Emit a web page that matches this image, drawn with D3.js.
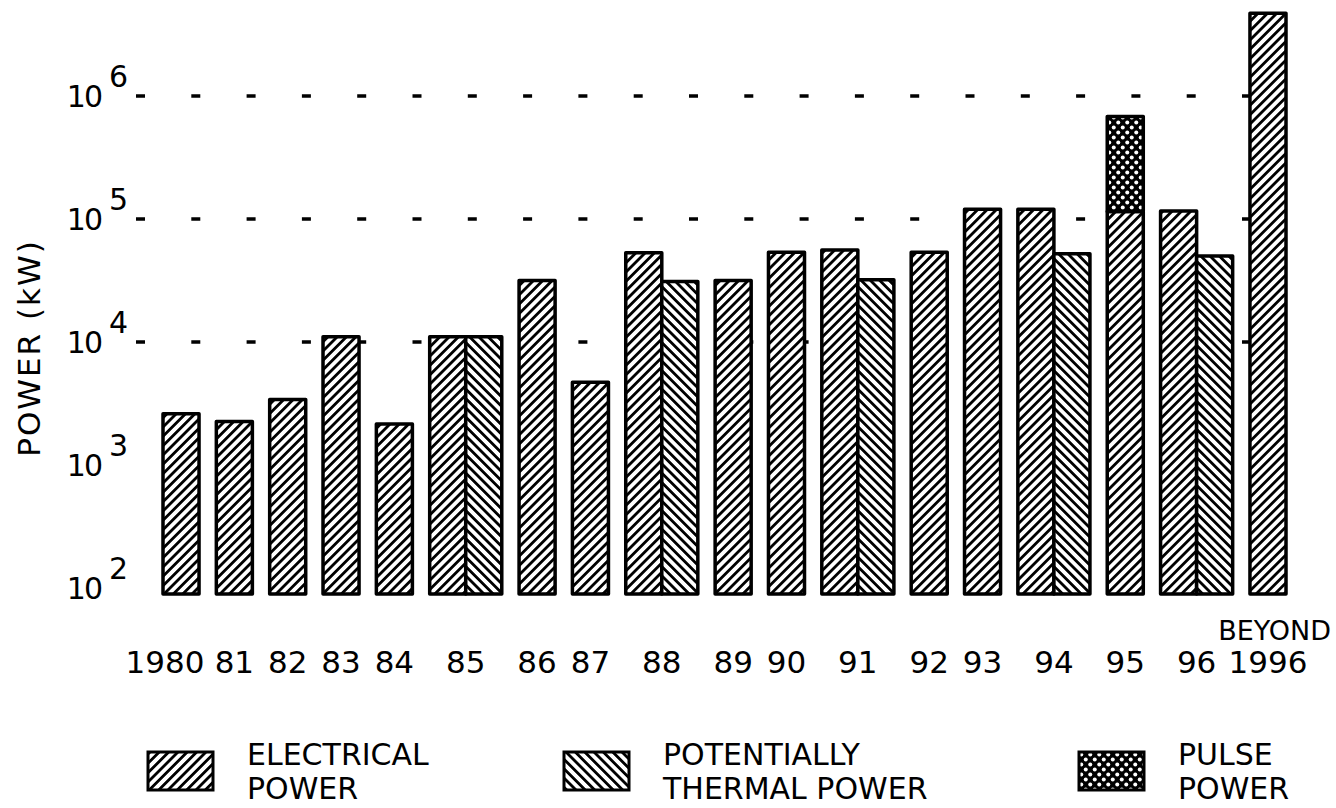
<!DOCTYPE html>
<html>
<head>
<meta charset="utf-8">
<script src="https://cdn.jsdelivr.net/npm/d3@7"></script>
<style>
  body { margin: 0; background: #fff; }
  svg { display: block; }
  .lbl { font-family: "DejaVu Sans", sans-serif; fill: #000; }
</style>
</head>
<body>
<script>
(function(){

//chart data (kW)
var years = ["1980","81","82","83","84","85","86","87","88","89","90","91","92","93","94","95","96","1996"];
var electrical = [2600, 2250, 3400, 11000, 2150, 11000, 31500, 4700, 53000, 31500, 53500, 56000, 53500, 120000, 120000, 115000, 116000, 4700000];
var thermal = [null, null, null, null, null, 11000, null, null, 31000, null, null, 32000, null, null, 52000, null, 50000, null];
var pulseTop = [null, null, null, null, null, null, null, null, null, null, null, null, null, null, null, 680000, null, null];
var yTicks = [1e2, 1e3, 1e4, 1e5, 1e6];
var gridTicks = [1e4, 1e5, 1e6];
var legendLabels = [["ELECTRICAL", "POWER"], ["POTENTIALLY", "THERMAL POWER"], ["PULSE", "POWER"]];
var legendFills = ["url(#elecHatch)", "url(#thermHatch)", "url(#pulseDots)"];

var width = 1336, height = 808;

var svg = d3.select("body")
    .append("svg")
    .attr("width", width)
    .attr("height", height);

svg.append("rect")
    .attr("width", width)
    .attr("height", height)
    .attr("fill", "#fff");

setPatterns(svg);

//log scale for power, bars start a little under 10^2
var yScale = d3.scaleLog()
    .domain([89, 1e6])
    .range([594, 96]);

//bars are laid out one after the other, pairs sit side by side
var gapUnits = 0.48;
var starts = [], pos = 0;
years.forEach(function(y, i){
    starts.push(pos);
    pos += (thermal[i] ? 2 : 1) + gapUnits;
});
var totalUnits = pos - gapUnits;
var xUnit = d3.scaleLinear()
    .domain([0, totalUnits])
    .range([163, 1286]);
var barW = xUnit(1) - xUnit(0);

//dashed reference lines behind bars
svg.selectAll(".grid")
    .data(gridTicks)
    .enter()
    .append("line")
    .attr("class", "grid")
    .attr("x1", 136)
    .attr("x2", 1255)
    .attr("y1", function(d){ return yScale(d); })
    .attr("y2", function(d){ return yScale(d); })
    .attr("stroke", "#000")
    .attr("stroke-width", 3.5)
    .attr("stroke-dasharray", "9,46.3");

//y tick labels 10^n
var tickG = svg.selectAll(".ytick")
    .data(yTicks)
    .enter()
    .append("g")
    .attr("class", "ytick")
    .attr("transform", function(d){ return "translate(0," + yScale(d) + ")"; });
tickG.append("text")
    .attr("class", "lbl")
    .attr("x", 101)
    .attr("y", 11)
    .attr("text-anchor", "end")
    .attr("letter-spacing", -2)
    .style("font-size", "30px")
    .text("10");
tickG.append("text")
    .attr("class", "lbl")
    .attr("x", 109)
    .attr("y", -9)
    .style("font-size", "30px")
    .text(function(d){ return Math.round(Math.log10(d)); });

//electrical bars
var bars = svg.append("g").attr("class", "bars");
bars.selectAll(".elec")
    .data(years)
    .enter()
    .append("rect")
    .attr("class", "elec")
    .attr("x", function(d, i){ return xUnit(starts[i]); })
    .attr("width", barW)
    .attr("y", function(d, i){ return yScale(electrical[i]); })
    .attr("height", function(d, i){ return yScale.range()[0] - yScale(electrical[i]); })
    .attr("fill", "url(#elecHatch)");

//thermal bars next to electrical
var thermIdx = d3.range(years.length).filter(function(i){ return thermal[i]; });
bars.selectAll(".therm")
    .data(thermIdx)
    .enter()
    .append("rect")
    .attr("class", "therm")
    .attr("x", function(i){ return xUnit(starts[i] + 1); })
    .attr("width", barW)
    .attr("y", function(i){ return yScale(thermal[i]); })
    .attr("height", function(i){ return yScale.range()[0] - yScale(thermal[i]); })
    .attr("fill", "url(#thermHatch)");

//pulse power stacked on top of electrical
var pulseIdx = d3.range(years.length).filter(function(i){ return pulseTop[i]; });
bars.selectAll(".pulse")
    .data(pulseIdx)
    .enter()
    .append("rect")
    .attr("class", "pulse")
    .attr("x", function(i){ return xUnit(starts[i]); })
    .attr("width", barW)
    .attr("y", function(i){ return yScale(pulseTop[i]); })
    .attr("height", function(i){ return yScale(electrical[i]) - yScale(pulseTop[i]); })
    .attr("fill", "url(#pulseDots)");

bars.selectAll("rect")
    .attr("stroke", "#000")
    .attr("stroke-width", 3.5)
    .attr("stroke-linejoin", "round");

//x labels centred on each year group
svg.selectAll(".xlbl")
    .data(years)
    .enter()
    .append("text")
    .attr("class", "lbl xlbl")
    .attr("x", function(d, i){
        var n = thermal[i] ? 2 : 1;
        return xUnit(starts[i] + n / 2) + (i === 0 ? -16 : 0);
    })
    .attr("y", 673)
    .attr("text-anchor", "middle")
    .style("font-size", "31px")
    .text(function(d){ return d; });

//"BEYOND" sits over the last label
svg.append("text")
    .attr("class", "lbl")
    .attr("x", 1331)
    .attr("y", 640)
    .attr("text-anchor", "end")
    .style("font-size", "27px")
    .text("BEYOND");

//y axis title
svg.append("text")
    .attr("class", "lbl")
    .attr("transform", "translate(40,348) rotate(-90)")
    .attr("text-anchor", "middle")
    .attr("letter-spacing", 2)
    .style("font-size", "31px")
    .text("POWER (kW)");

//legend
var legX = [148, 564, 1079];
var leg = svg.selectAll(".leg")
    .data(legendLabels)
    .enter()
    .append("g")
    .attr("class", "leg")
    .attr("transform", function(d, i){ return "translate(" + legX[i] + ",752)"; });
leg.append("rect")
    .attr("width", 65)
    .attr("height", 38)
    .attr("fill", function(d, i){ return legendFills[i]; })
    .attr("stroke", "#000")
    .attr("stroke-width", 3);
leg.each(function(d){
    var g = d3.select(this);
    d.forEach(function(line, k){
        g.append("text")
            .attr("class", "lbl")
            .attr("x", 99)
            .attr("y", 13 + k * 34)
            .style("font-size", "30px")
            .text(line);
    });
});

function setPatterns(svg){
    var defs = svg.append("defs");
    //diagonal hatch "/" and "\"
    [["elecHatch", 45], ["thermHatch", -45]].forEach(function(p){
        var pat = defs.append("pattern")
            .attr("id", p[0])
            .attr("patternUnits", "userSpaceOnUse")
            .attr("width", 6.6)
            .attr("height", 6.6)
            .attr("patternTransform", "rotate(" + p[1] + ")");
        pat.append("rect").attr("width", 6.6).attr("height", 6.6).attr("fill", "#fff");
        pat.append("rect").attr("width", 2.8).attr("height", 6.6).attr("fill", "#000");
    });
    //black with white dots
    var dots = defs.append("pattern")
        .attr("id", "pulseDots")
        .attr("patternUnits", "userSpaceOnUse")
        .attr("width", 9)
        .attr("height", 10);
    dots.append("rect").attr("width", 9).attr("height", 10).attr("fill", "#000");
    dots.append("circle").attr("cx", 2.25).attr("cy", 2.5).attr("r", 2).attr("fill", "#fff");
    dots.append("circle").attr("cx", 6.75).attr("cy", 7.5).attr("r", 2).attr("fill", "#fff");
};

})();
</script>
</body>
</html>
